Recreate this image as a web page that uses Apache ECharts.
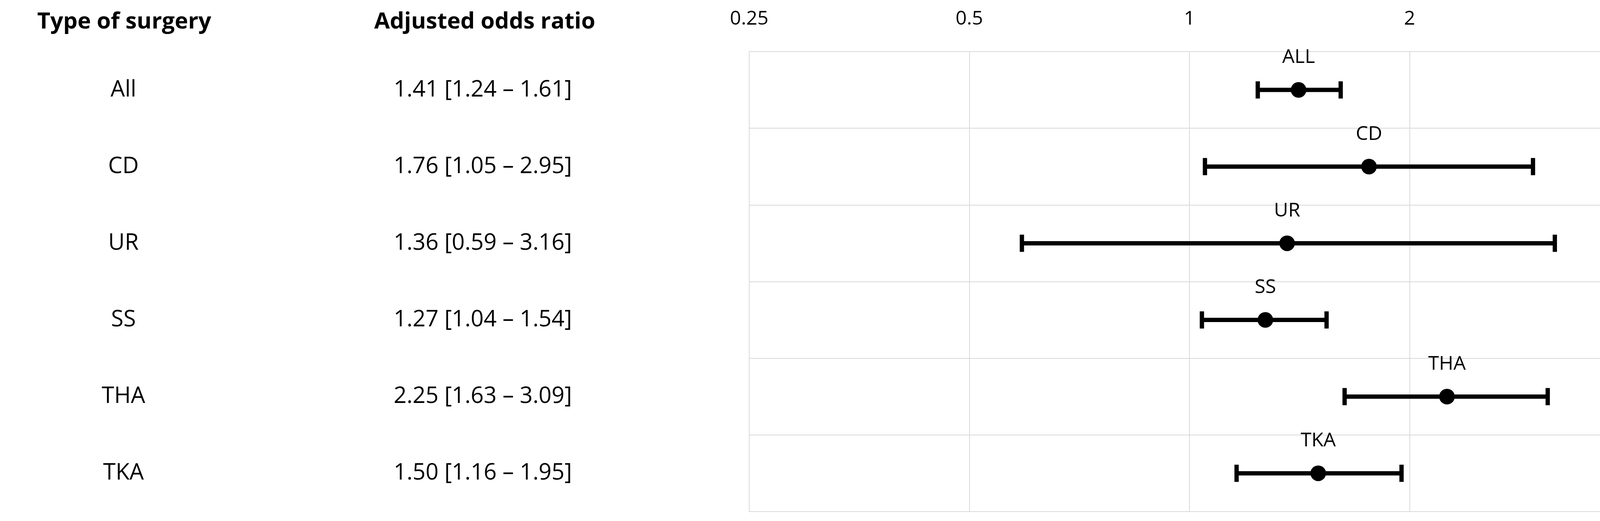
<!DOCTYPE html>
<html>
<head>
<meta charset="utf-8">
<script src="https://cdn.jsdelivr.net/npm/echarts@6/dist/echarts.min.js"></script>
<style>html,body{margin:0;padding:0;background:#fff;overflow:hidden}#chart{width:4196px;height:1333px}</style>
</head>
<body>
<div id="chart"></div>
<script>
var surgeries = ['All', 'CD', 'UR', 'SS', 'THA', 'TKA'];
var pointLabels = ['ALL', 'CD', 'UR', 'SS', 'THA', 'TKA'];
var oddsRatio = [1.41, 1.76, 1.36, 1.27, 2.25, 1.50];
var lowerCI = [1.24, 1.05, 0.59, 1.04, 1.63, 1.16];
var upperCI = [1.61, 2.95, 3.16, 1.54, 3.09, 1.95];
var tickLabels = [0.25, 0.5, 1, 2, 4];

var font = 'Open Sans';
function fmt(v){ return v.toFixed(2); }

var barData = surgeries.map(function(s, i){ return [lowerCI[i], upperCI[i], i]; });
var pointData = surgeries.map(function(s, i){ return [oddsRatio[i], i]; });

var myChart = echarts.init(document.getElementById('chart'));
var option = {
    animation: false,
    title: [
        {text: 'Type of surgery', left: 313, top: 22, textAlign: 'center',
         textStyle: {fontFamily: font, fontWeight: 'bold', fontSize: 58, color: '#000'}},
        {text: 'Adjusted odds ratio', left: 1236, top: 22, textAlign: 'center',
         textStyle: {fontFamily: font, fontWeight: 'bold', fontSize: 58, color: '#000'}}
    ],
    grid: {left: 1918, right: 24, top: 132, bottom: 24},
    xAxis: {
        type: 'log', logBase: 2, min: 0.25, max: 4, position: 'top',
        axisLine: {show: false}, axisTick: {show: false},
        axisLabel: {fontFamily: font, fontSize: 50, color: '#000', margin: 58,
            formatter: function(v){ return tickLabels.indexOf(+v.toPrecision(3)) >= 0 ? String(+v.toPrecision(3)) : ''; }},
        splitLine: {show: true, lineStyle: {color: '#d9d9d9', width: 2}}
    },
    yAxis: {
        type: 'category', data: surgeries, inverse: true,
        axisLine: {show: false}, axisTick: {show: false},
        splitLine: {show: true, lineStyle: {color: '#d9d9d9', width: 2}},
        axisLabel: {margin: 312,
            formatter: function(v, i){
                return '{a|' + v + '}{b|' + fmt(oddsRatio[i]) + ' [' + fmt(lowerCI[i]) + ' \u2013 ' + fmt(upperCI[i]) + ']}';
            },
            rich: {
                a: {width: 1100, align: 'center', fontFamily: font, fontSize: 58, color: '#000'},
                b: {width: 740, align: 'center', fontFamily: font, fontSize: 58, color: '#000'}
            }
        }
    },
    graphic: [{type: 'rect', shape: {x: 1918, y: 132, width: 4172 - 1918, height: 1309 - 132},
               style: {fill: 'none', stroke: '#d9d9d9', lineWidth: 2}, z: 1}],
    series: [
        {
            type: 'custom', data: barData, z: 5,
            renderItem: function(params, api){
                var a = api.coord([api.value(0), api.value(2)]);
                var b = api.coord([api.value(1), api.value(2)]);
                var h = 22, st = {stroke: '#000', lineWidth: 11};
                return {type: 'group', children: [
                    {type: 'line', shape: {x1: a[0], y1: a[1], x2: b[0], y2: b[1]}, style: st},
                    {type: 'line', shape: {x1: a[0], y1: a[1] - h, x2: a[0], y2: a[1] + h}, style: st},
                    {type: 'line', shape: {x1: b[0], y1: b[1] - h, x2: b[0], y2: b[1] + h}, style: st}
                ]};
            }
        },
        {
            type: 'scatter', data: pointData, symbolSize: 40, z: 6,
            itemStyle: {color: '#000', opacity: 1},
            label: {show: true, position: 'top', distance: 38,
                fontFamily: font, fontSize: 50, color: '#000',
                formatter: function(p){ return pointLabels[p.dataIndex]; }}
        }
    ]
};
myChart.setOption(option);
</script>
</body>
</html>
